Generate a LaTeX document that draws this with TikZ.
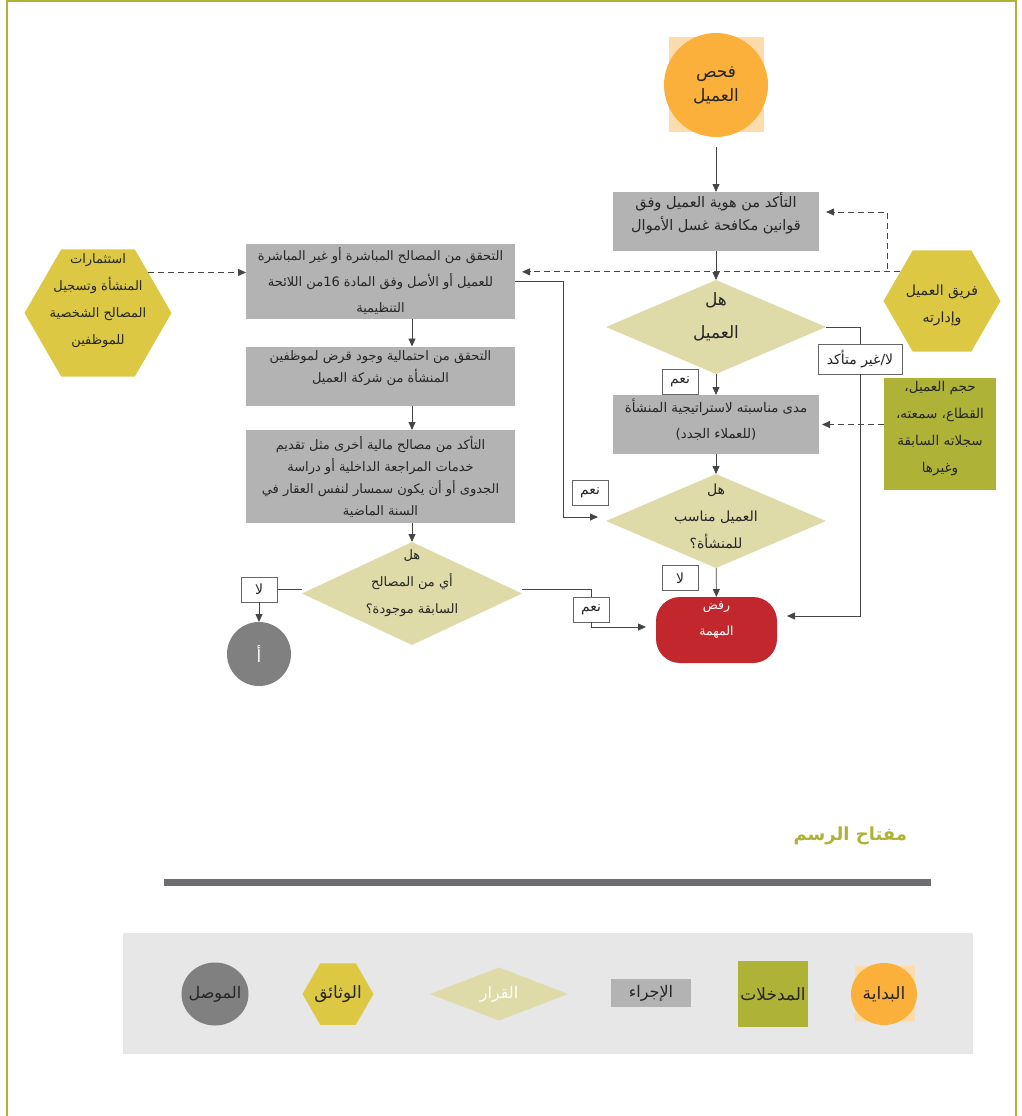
\documentclass[tikz,border=0pt]{standalone}
\usepackage{fontspec}
\usepackage{tikz}
\usetikzlibrary{arrows.meta, calc, shapes.geometric}
\TeXXeTstate=1
\newfontfamily\arabicfont[Script=Arabic]{DejaVu Sans}
\newcommand{\artext}[1]{\beginR#1\endR}
\newcommand{\setfs}[2]{\arabicfont\fontsize{#1}{#2}\selectfont}

\definecolor{startOrange}{HTML}{FBB03B}
\definecolor{startPeach}{HTML}{FCDCAD}
\definecolor{processGray}{HTML}{B3B3B3}
\definecolor{decisionKhaki}{HTML}{DEDBA9}
\definecolor{docYellow}{HTML}{DCC843}
\definecolor{inputOlive}{HTML}{AEB236}
\definecolor{rejectRed}{HTML}{C1272D}
\definecolor{linkGray}{HTML}{808080}
\definecolor{lineGray}{HTML}{454545}
\definecolor{legendBack}{HTML}{E6E7E6}
\definecolor{barGray}{HTML}{6D6E71}

\tikzset{
    every node/.style={font=\setfs{13}{22}, text=black!85, inner sep=0pt, outer sep=0pt},
    process/.style={rectangle, fill=processGray},
    decision/.style={diamond, fill=decisionKhaki, minimum width=220pt, minimum height=94pt},
    docshape/.style={regular polygon, regular polygon sides=6, fill=docYellow},
    inputbox/.style={rectangle, fill=inputOlive},
    tag/.style={rectangle, draw=black!60, fill=white, line width=0.8pt, minimum width=36pt, minimum height=25pt, font=\setfs{14}{20}},
    flow/.style={draw=lineGray, line width=0.8pt, -{Triangle[length=8pt,width=7pt]}},
    feed/.style={flow, dash pattern=on 6pt off 4pt},
    plain/.style={draw=lineGray, line width=0.8pt},
}

% shape first, text on top, so long texts do not grow the shape
\newcommand{\shapenode}[5][]{
    \node[#1] (#2) at (#3) {};
    \node[align=center, #4] (#2-text) at (#2) {#5};
}

\begin{document}
\begin{tikzpicture}[x=1pt, y=-1pt]
    \useasboundingbox (0,0) rectangle (1022,1116);
    \draw[inputOlive, line width=2pt] (7,1116) -- (7,1) -- (1016,1) -- (1016,1116);

    % right column
    \fill[startPeach] (669,37) rectangle (764,132);
    \node[circle, fill=startOrange, minimum size=104pt, align=center, font=\setfs{17}{24}] (start) at (716,85) {\artext{فحص}\\\artext{العميل}};
    \shapenode[process, minimum width=206pt, minimum height=59pt]{verify}{716,221.5}{font=\setfs{14.5}{23}, yshift=8pt}{\artext{التأكد من هوية العميل وفق}\\\artext{قوانين مكافحة غسل الأموال}}
    \shapenode[decision]{isclient}{716,327}{font=\setfs{17}{33}, yshift=10pt}{\artext{هل}\\\artext{العميل}}
    \shapenode[docshape, minimum size=117pt]{team}{942,301}{font=\setfs{14}{27}, yshift=-4pt}{\artext{فريق العميل}\\\artext{وإدارته}}
    \shapenode[process, minimum width=206pt, minimum height=59pt]{fit}{716,424.5}{font=\setfs{13.3}{26}, yshift=5pt}{\artext{مدى مناسبته لاستراتيجية المنشأة}\\\artext{(للعملاء الجدد)}}
    \shapenode[inputbox, minimum width=112pt, minimum height=112pt]{clientdata}{940,434}{font=\setfs{13.5}{27}, yshift=5pt}{\artext{حجم العميل،}\\\artext{القطاع، سمعته،}\\\artext{سجلاته السابقة}\\\artext{وغيرها}}
    \shapenode[decision]{suits}{716,521}{font=\setfs{14}{27}, yshift=5pt}{\artext{هل}\\\artext{العميل مناسب}\\\artext{للمنشأة؟}}
    \shapenode[rectangle, rounded corners=24pt, fill=rejectRed, minimum width=121pt, minimum height=66pt]{reject}{716.5,630}{text=white, font=\setfs{12.5}{26}, yshift=10pt}{\artext{رفض}\\\artext{المهمة}}

    % left column
    \shapenode[process, minimum width=269pt, minimum height=75pt]{interests}{380.5,281}{font=\setfs{13}{26}}{\artext{التحقق من المصالح المباشرة أو غير المباشرة}\\\artext{للعميل أو الأصل وفق المادة \beginL16\endL{}من اللائحة}\\\artext{التنظيمية}}
    \shapenode[process, minimum width=269pt, minimum height=59pt]{loan}{380.5,376}{font=\setfs{13}{22}, yshift=8pt}{\artext{التحقق من احتمالية وجود قرض لموظفين}\\\artext{المنشأة من شركة العميل}}
    \shapenode[process, minimum width=269pt, minimum height=93pt]{others}{380.5,476.5}{font=\setfs{13}{22}}{\artext{التأكد من مصالح مالية أخرى مثل تقديم}\\\artext{خدمات المراجعة الداخلية أو دراسة}\\\artext{الجدوى أو أن يكون سمسار لنفس العقار في}\\\artext{السنة الماضية}}
    \shapenode[docshape, minimum size=147pt]{staff}{98,313}{font=\setfs{13}{27}, yshift=12pt}{\artext{استثمارات}\\\artext{المنشأة وتسجيل}\\\artext{المصالح الشخصية}\\\artext{للموظفين}}
    \shapenode[decision, minimum height=103pt]{prior}{412,593.5}{font=\setfs{13}{27}, yshift=10pt}{\artext{هل}\\\artext{أي من المصالح}\\\artext{السابقة موجودة؟}}
    \node[circle, fill=linkGray, minimum size=64pt, text=white, font=\setfs{17}{20}] (linkA) at (259,654) {\artext{أ}};

    % answer tags
    \node[tag] (yes1) at (680,381.5) {\artext{نعم}};
    \node[tag, minimum width=84pt, minimum height=30pt] (unsure) at (860,359) {\artext{لا/غير متأكد}};
    \node[tag] (yes2) at (590,492.5) {\artext{نعم}};
    \node[tag] (no2) at (680,578) {\artext{لا}};
    \node[tag] (yes3) at (591,609.5) {\artext{نعم}};
    \node[tag] (no3) at (259,589.5) {\artext{لا}};

    % connectors
    \coordinate (teambend) at (887,269);
    \draw[flow, shorten <=10pt] (start) -- (verify);
    \draw[flow] (verify) -- (isclient);
    \draw[flow] (isclient) -- (fit);
    \draw[plain] (isclient.east) -| (unsure.north);
    \draw[flow, shorten >=10pt] (unsure.south) |- ([yshift=14pt]reject.east);
    \draw[feed, shorten >=7pt] (team.145) -- (team.145 -| interests.east);
    \draw[feed, shorten >=7pt] (teambend) |- ([yshift=9.5pt]verify.east);
    \draw[feed, shorten >=3pt] (clientdata.west |- fit.east) -- (fit.east);
    \draw[flow] (fit) -- (suits);
    \draw[flow, shorten >=8pt] (interests.east) -- ++(48,0) |- ([yshift=4pt]suits.west);
    \draw[flow] (suits) -- (reject);
    \draw[plain] ([yshift=4pt]prior.east) -| (yes3.north);
    \draw[flow, shorten >=10pt] (yes3.south) |- ([yshift=3pt]reject.west);
    \draw[plain] (no3.east) -- (no3.east -| prior.west);
    \draw[flow] (no3) -- (linkA);
    \draw[feed] (staff.39) -- (staff.39 -| interests.west);
    \foreach \a/\b in {interests/loan, loan/others}
        \draw[flow] (\a.south -| prior.north) -- (\b.north -| prior.north);
    \draw[flow] (others.south -| prior.north) -- (prior.north);

    % key
    \node[anchor=east, font=\arabicfont\bfseries\fontsize{18}{20}\selectfont, text=inputOlive] (keytitle) at (907,836) {\artext{مفتاح الرسم}};
    \fill[barGray] (164,879) rectangle (931,886);
    \fill[legendBack] (123,933) rectangle (973,1054);
    \fill[startPeach] (855,966) rectangle (915,1022);
    \shapenode[ellipse, fill=startOrange, minimum width=66pt, minimum height=62pt]{keystart}{884,994}{font=\setfs{17}{20}}{\artext{البداية}}
    \shapenode[inputbox, minimum width=70pt, minimum height=66pt]{keyinput}{773,994}{font=\setfs{17}{20}}{\artext{المدخلات}}
    \shapenode[process, minimum width=80pt, minimum height=28pt]{keyprocess}{651,993}{font=\setfs{16}{20}}{\artext{الإجراء}}
    \shapenode[decision, minimum width=138pt, minimum height=53pt]{keydecision}{499,994}{text=white, font=\setfs{16}{20}}{\artext{القرار}}
    \shapenode[docshape, minimum size=71pt]{keydocs}{338,994}{font=\setfs{17}{20}}{\artext{الوثائق}}
    \shapenode[ellipse, fill=linkGray, minimum width=67pt, minimum height=63pt]{keylink}{215,994}{font=\setfs{16}{20}}{\artext{الموصل}}
\end{tikzpicture}
\end{document}
